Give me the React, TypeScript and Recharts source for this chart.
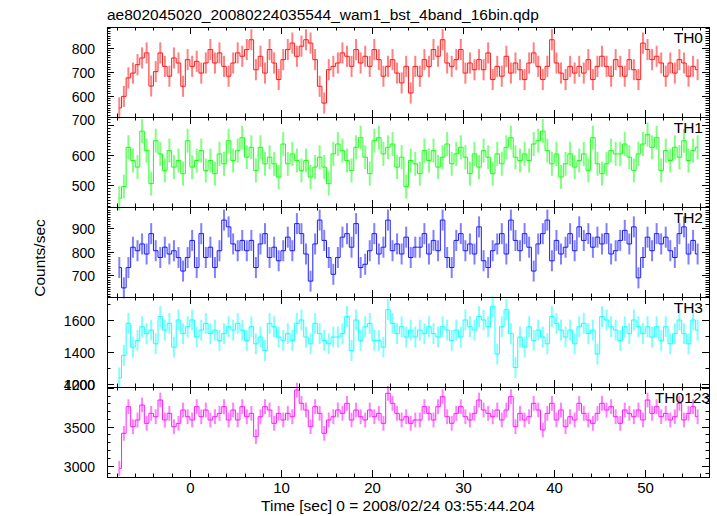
import React from 'react';
import { ComposedChart, Line, XAxis, YAxis, ErrorBar } from 'recharts';

// time bins (sec, bin centres)
const TIME_START = -7.75;
const BIN = 0.5;

const TH0 = [
  549, 597, 674, 694, 729, 757, 778, 640, 700, 778,
  722, 681, 757, 736, 639, 750, 722, 743, 694, 736,
  792, 736, 778, 722, 681, 736, 778, 764, 792, 833,
  708, 764, 694, 792, 736, 667, 750, 792, 819, 764,
  806, 833, 819, 750, 639, 569, 708, 722, 736, 778,
  764, 722, 792, 736, 764, 722, 792, 750, 681, 722,
  750, 694, 653, 722, 611, 722,
  681, 750, 722, 792, 764, 833, 736, 722, 750, 792,
  694, 736, 708, 750, 708, 778, 667, 722, 681, 764,
  694, 736, 708, 667, 736, 778, 722, 667, 722, 833,
  736, 694, 667, 722, 694, 722, 694, 750, 667, 722,
  764, 722, 681, 750, 722, 681, 750, 708, 667, 819,
  792, 750, 764, 736, 681, 736, 694, 750, 736, 681,
  722, 708,
];

const TH1 = [
  456, 495, 626, 582, 560, 680, 615, 505, 648, 604,
  549, 615, 560, 582, 538, 648, 560, 582, 615, 549,
  582, 538, 604, 571, 648, 582, 615, 658, 593, 626,
  549, 626, 571, 593, 571, 527, 637, 571, 604, 582,
  549, 582, 527, 560, 593, 560, 505, 604, 637, 615,
  582, 549, 626, 658, 593, 538, 648, 658, 604, 626,
  637, 560, 593, 495, 582, 571,
  538, 615, 582, 615, 560, 593, 637, 571, 604, 626,
  593, 538, 604, 560, 615, 593, 538, 604, 571, 626,
  658, 593, 582, 604, 582, 637, 648, 680, 615, 571,
  604, 527, 571, 604, 560, 582, 604, 549, 658, 571,
  538, 571, 615, 604, 604, 637, 593, 549, 604, 637,
  669, 626, 658, 549, 615, 582, 626, 593, 648, 582,
  615, 626,
];

const TH2 = [
  732, 645, 732, 819, 804, 833, 790, 877, 804, 775,
  819, 790, 804, 775, 717, 775, 848, 732, 877, 775,
  819, 732, 804, 935, 906, 833, 804, 848, 804, 848,
  732, 833, 877, 775, 819, 761, 804, 862, 804, 920,
  877, 790, 674, 833, 935, 848, 775, 703, 775, 862,
  877, 819, 920, 732, 746, 804, 877, 790, 819, 935,
  804, 833, 790, 862, 775, 819,
  819, 877, 790, 848, 804, 935, 775, 732, 848, 877,
  804, 833, 790, 906, 761, 732, 804, 833, 877, 790,
  935, 848, 804, 877, 819, 717, 833, 877, 935, 761,
  848, 790, 819, 877, 804, 906, 848, 877, 819, 862,
  833, 877, 790, 804, 848, 891, 833, 906, 688, 775,
  862, 804, 877, 833, 862, 804, 775, 877, 906, 790,
  848, 790,
];

const TH3 = [
  1240, 1380, 1579, 1431, 1473, 1558, 1515, 1537, 1452, 1621,
  1537, 1579, 1431, 1600, 1515, 1558, 1600, 1494, 1537, 1579,
  1515, 1537, 1473, 1515, 1558, 1537, 1579, 1537, 1473, 1558,
  1452, 1494, 1410, 1579, 1558, 1494, 1473, 1515, 1473, 1579,
  1600, 1494, 1452, 1579, 1515, 1473, 1452, 1494, 1494, 1515,
  1621, 1410, 1600, 1473, 1558, 1579, 1473, 1473, 1431, 1664,
  1579, 1515, 1558, 1494, 1537, 1494,
  1537, 1515, 1558, 1515, 1494, 1558, 1537, 1473, 1537, 1494,
  1600, 1558, 1537, 1621, 1600, 1558, 1685, 1388, 1558, 1664,
  1515, 1304, 1494, 1431, 1558, 1473, 1537, 1494, 1452, 1621,
  1579, 1537, 1494, 1537, 1452, 1558, 1579, 1515, 1537, 1388,
  1621, 1600, 1558, 1537, 1473, 1558, 1515, 1600, 1558, 1515,
  1558, 1494, 1558, 1473, 1558, 1452, 1515, 1600, 1515, 1452,
  1600, 1537,
];

const TH0123 = [
  2966, 3415, 3757, 3500, 3586, 3778, 3543, 3671, 3628, 3842,
  3586, 3671, 3500, 3543, 3714, 3628, 3586, 3757, 3628, 3714,
  3586, 3628, 3671, 3757, 3586, 3714, 3586, 3757, 3628, 3671,
  3372, 3628, 3757, 3714, 3543, 3671, 3586, 3671, 3628, 3970,
  3800, 3714, 3500, 3757, 3671, 3415, 3586, 3628, 3714, 3671,
  3800, 3586, 3714, 3628, 3586, 3714, 3628, 3671, 3543, 3928,
  3800, 3671, 3586, 3628, 3543, 3586,
  3586, 3757, 3671, 3586, 3757, 3885, 3628, 3543, 3671, 3757,
  3628, 3586, 3671, 3842, 3714, 3671, 3628, 3714, 3586, 3714,
  3885, 3500, 3671, 3586, 3628, 3800, 3714, 3458, 3671, 3800,
  3586, 3714, 3500, 3628, 3586, 3800, 3671, 3586, 3543, 3671,
  3800, 3714, 3757, 3628, 3543, 3714, 3671, 3628, 3714, 3586,
  3842, 3671, 3757, 3628, 3671, 3586, 3628, 3800, 3586, 3671,
  3757, 3628,
];

// 1-sigma errors (counts/sec)
const TH0_ERR = 44;
const TH1_ERR = 40;
const TH2_ERR = 45;
const TH3_ERR = 65;
const TH0123_ERR = 95;

// labelled ticks
const TH0_LABELS = [600, 700, 800];
const TH1_LABELS = [500, 600, 700];
const TH2_LABELS = [700, 800, 900];
const TH3_LABELS = [1200, 1400, 1600];
const TH0123_LABELS = [3000, 3500, 4000];
const TIME_LABELS = [0, 10, 20, 30, 40, 50];

const TITLE = 'ae802045020_20080224035544_wam1_bst_4band_16bin.qdp';
const X_TITLE = 'Time [sec] 0 = 2008/02/24 03:55:44.204';
const Y_TITLE = 'Counts/sec';

// layout
const W = 717;
const H = 516;
const LEFT = 107;
const RIGHT = 709;
const PLOT_W = RIGHT - LEFT;
const TOP = 27;
const PANEL_H = 90;
const PAD = 12;
const X_AXIS_H = 39;
const X_DOMAIN: [number, number] = [-9.1, 57.0];
const FONT = '"Liberation Sans", Arial, Helvetica, sans-serif';

const X_TICKS: number[] = [];
for (let t = -8; t <= 56; t += 2) X_TICKS.push(t);

interface Panel {
  name: string;
  values: number[];
  err: number;
  color: string;
  domain: [number, number];
  labels: number[];
  minorStep: number;
  majorStep: number;
  shift?: Record<number, number>;
  nameX: number;
}

const PANELS: Panel[] = [
  { name: 'TH0', values: TH0, err: TH0_ERR, color: '#ff1a1a', domain: [511, 886], labels: TH0_LABELS, minorStep: 10, majorStep: 100, nameX: 703 },
  { name: 'TH1', values: TH1, err: TH1_ERR, color: '#1aff1a', domain: [427, 727], labels: TH1_LABELS, minorStep: 10, majorStep: 100, shift: { 700: -6 }, nameX: 703 },
  { name: 'TH2', values: TH2, err: TH2_ERR, color: '#1a1aff', domain: [606, 991], labels: TH2_LABELS, minorStep: 10, majorStep: 100, nameX: 703 },
  { name: 'TH3', values: TH3, err: TH3_ERR, color: '#1affff', domain: [1183, 1743], labels: TH3_LABELS, minorStep: 100, majorStep: 200, nameX: 703 },
  { name: 'TH0123', values: TH0123, err: TH0123_ERR, color: '#ff1aff', domain: [2855, 4009], labels: TH0123_LABELS, minorStep: 100, majorStep: 500, shift: { 4000: -4 }, nameX: 710 },
];

function yTicks(domain: [number, number], step: number) {
  const out: number[] = [];
  for (let v = Math.ceil(domain[0] / step) * step; v <= domain[1]; v += step) out.push(v);
  return out;
}

function PanelChart({ p, last }: { p: Panel; last: boolean }) {
  const rows = p.values.map((v, i) => ({ t: TIME_START + i * BIN, v, e: p.err }));
  const height = last ? PANEL_H + PAD + X_AXIS_H : PANEL_H + 2 * PAD;

  // inward ticks on left and right edges, label on the left
  const renderYTick = (props: any) => {
    const x = Number(props.x);
    const y = Math.round(Number(props.y)) + 0.5;
    const v = props.payload.value;
    const len = v % p.majorStep === 0 ? 7 : 3.5;
    const label = p.labels.includes(v);
    const dy = (p.shift && p.shift[v]) || 0;
    return (
      <g>
        <path d={`M${x},${y}h${len}M${x + PLOT_W - len},${y}h${len}`} stroke="#000" strokeWidth={1} fill="none" />
        {label && (
          <text x={x - 12} y={y + 5 + dy} textAnchor="end" fontSize={14} fontFamily={FONT} fill="#000" stroke="none">
            {v}
          </text>
        )}
      </g>
    );
  };

  // inward ticks on bottom and top edges, label only on the last panel
  const renderXTick = (props: any) => {
    const x = Math.round(Number(props.x)) + 0.5;
    const y = Number(props.y);
    const v = props.payload.value;
    const len = v % 10 === 0 ? 7 : 3.5;
    return (
      <g>
        <path d={`M${x},${y}v${-len}M${x},${y - PANEL_H}v${len}`} stroke="#000" strokeWidth={1} fill="none" />
        {last && TIME_LABELS.includes(v) && (
          <text x={x} y={y + 16} textAnchor="middle" fontSize={15} fontFamily={FONT} fill="#000" stroke="none">
            {v}
          </text>
        )}
      </g>
    );
  };

  return (
    <ComposedChart
      width={W}
      height={height}
      data={rows}
      margin={{ top: PAD, right: W - RIGHT, bottom: last ? 0 : PAD - 1, left: 0 }}
      style={{ overflow: 'visible' }}
    >
      <XAxis
        dataKey="t"
        type="number"
        domain={X_DOMAIN}
        allowDataOverflow
        ticks={X_TICKS}
        interval={0}
        height={last ? X_AXIS_H : 1}
        axisLine={false}
        tickLine={false}
        tickSize={0}
        tickMargin={0}
        tick={renderXTick}
      />
      <YAxis
        type="number"
        domain={p.domain}
        allowDataOverflow
        ticks={yTicks(p.domain, p.minorStep)}
        interval={0}
        width={LEFT}
        axisLine={false}
        tickLine={false}
        tickSize={0}
        tickMargin={0}
        tick={renderYTick}
      />
      <Line type="step" dataKey="v" stroke={p.color} strokeWidth={1} dot={false} isAnimationActive={false}>
        <ErrorBar
          dataKey="e"
          direction="y"
          width={0}
          stroke={p.color}
          strokeWidth={2}
          strokeOpacity={0.55}
          isAnimationActive={false}
        />
      </Line>
    </ComposedChart>
  );
}

export default function App() {
  return (
    <div style={{ position: 'absolute', left: 0, top: 0, width: W, height: H, background: '#fff', fontFamily: FONT }}>
      {PANELS.map((p, i) => (
        <div key={p.name} style={{ position: 'absolute', left: 0, top: TOP + i * PANEL_H - PAD }}>
          <PanelChart p={p} last={i === PANELS.length - 1} />
        </div>
      ))}
      <svg width={W} height={H} style={{ position: 'absolute', left: 0, top: 0, pointerEvents: 'none' }}>
        <text x={LEFT} y={19.5} fontSize={15.5} fontFamily={FONT} fill="#000">{TITLE}</text>
        <text x={398} y={511} textAnchor="middle" fontSize={15.5} fontFamily={FONT} fill="#000">{X_TITLE}</text>
        <text x={45} y={258} textAnchor="middle" fontSize={15.5} fontFamily={FONT} fill="#000" transform="rotate(-90 45 258)">
          {Y_TITLE}
        </text>
        {PANELS.map((p, i) => (
          <g key={p.name}>
            <rect x={LEFT + 0.5} y={TOP + i * PANEL_H + 0.5} width={PLOT_W} height={PANEL_H} fill="none" stroke="#000" strokeWidth={1} />
            <text x={p.nameX} y={TOP + i * PANEL_H + 16} textAnchor="end" fontSize={15.5} fontFamily={FONT} fill="#000">
              {p.name}
            </text>
          </g>
        ))}
      </svg>
    </div>
  );
}
